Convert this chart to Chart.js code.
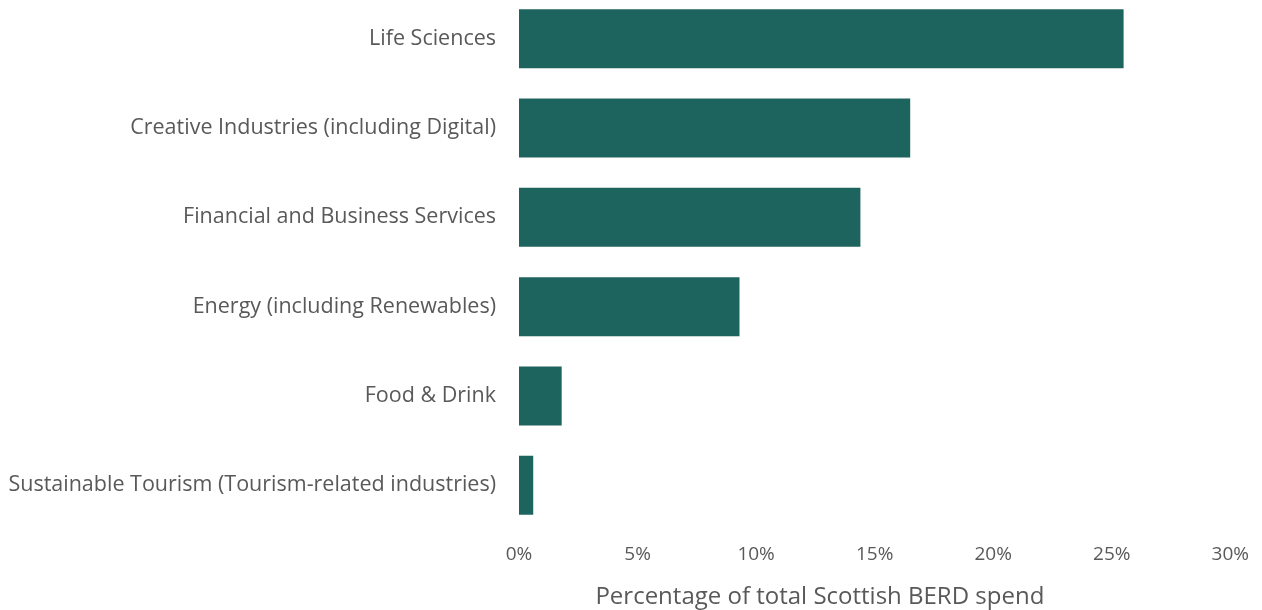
<!DOCTYPE html>
<html>
<head>
<meta charset="utf-8">
<script src="https://cdn.jsdelivr.net/npm/chart.js@4"></script>
<style>
  body { margin: 0; background: #fff; overflow: hidden; }
  #wrap { position: absolute; left: 0; top: -6px; width: 1262px; height: 616px; }
</style>
</head>
<body>
<div id="wrap"><canvas id="myChart"></canvas></div>
<script>
// sectors and share of total Scottish BERD spend (%)
const sectors = [
  "Life Sciences",
  "Creative Industries (including Digital)",
  "Financial and Business Services",
  "Energy (including Renewables)",
  "Food & Drink",
  "Sustainable Tourism (Tourism-related industries)"
];
const shares = [25.5, 16.5, 14.4, 9.3, 1.8, 0.6];
const xTicks = [0, 5, 10, 15, 20, 25, 30];
const axisTitle = "Percentage of total Scottish BERD spend";

const grey = "#595959";
const font = "'Open Sans', 'Liberation Sans', sans-serif";

// title under the axis, a little left of centre as in the original
const xTitle = {
  id: "xTitle",
  afterDraw(chart) {
    const c = chart.ctx;
    const a = chart.chartArea;
    c.save();
    c.font = "24px " + font;
    c.fillStyle = grey;
    c.textAlign = "center";
    c.textBaseline = "middle";
    c.fillText(axisTitle, a.left + (a.right - a.left) * 0.423, 603);
    c.restore();
  }
};

const ctx = document.getElementById("myChart");
new Chart(ctx, {
  type: "bar",
  data: {
    labels: sectors,
    datasets: [{
      data: shares,
      backgroundColor: "#1e645e",
      barPercentage: 0.66,
      categoryPercentage: 1
    }]
  },
  options: {
    indexAxis: "y",
    responsive: true,
    maintainAspectRatio: false,
    animation: false,
    layout: { padding: { top: 0, right: 31, bottom: 0, left: 0 } },
    plugins: { legend: { display: false }, tooltip: { enabled: false } },
    scales: {
      x: {
        min: 0,
        max: 30,
        afterBuildTicks(scale) { scale.ticks = xTicks.map(v => ({ value: v })); },
        afterFit(scale) { scale.height = 80; },
        grid: { display: false, drawTicks: false },
        border: { display: false },
        ticks: {
          padding: 13,
          color: grey,
          font: { family: font, size: 19 },
          callback: v => v + "%"
        }
      },
      y: {
        afterFit(scale) {
          scale.width = 519;
          scale.paddingTop = 0;
          scale.paddingBottom = 0;
        },
        grid: { display: false, drawTicks: false },
        border: { display: false },
        ticks: {
          padding: 23,
          color: grey,
          font: { family: font, size: 21.5 }
        }
      }
    }
  },
  plugins: [xTitle]
});
</script>
</body>
</html>
